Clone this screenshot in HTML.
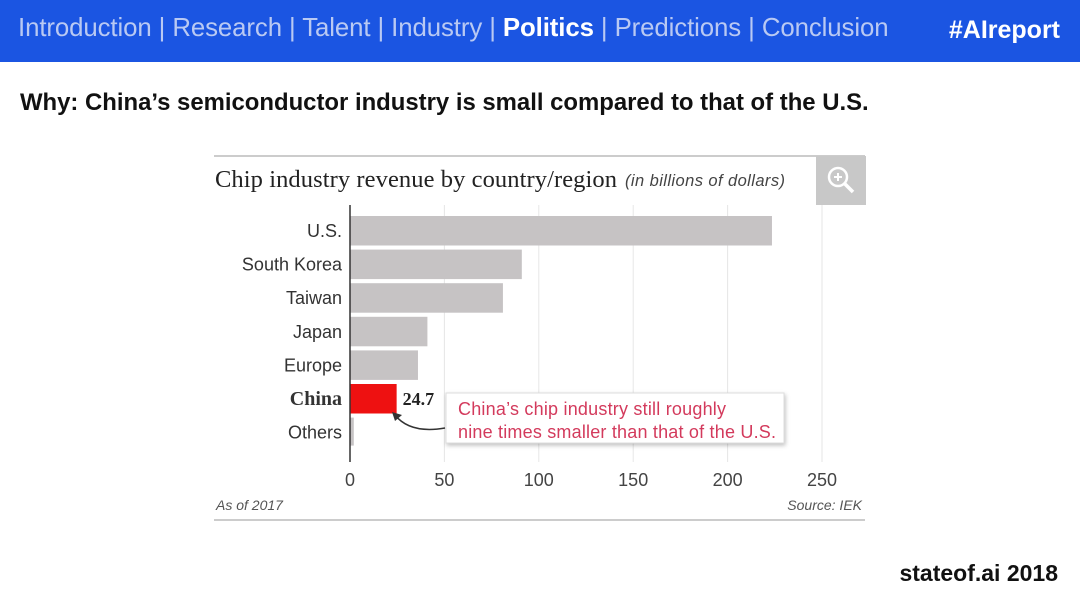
<!DOCTYPE html>
<html><head><meta charset="utf-8"><style>
body{margin:0;width:1080px;height:608px;background:#fff;overflow:hidden;position:relative;font-family:"Liberation Sans",sans-serif}
#hdr{position:absolute;left:0;top:0;width:1080px;height:62px;background:#1b55e2}
#nav{position:absolute;left:18px;top:14px;font-size:25.8px;color:#b9c9f3;white-space:nowrap;letter-spacing:-0.1px}
#nav b{color:#fff}
#tag{position:absolute;right:20px;top:16px;font-size:25px;font-weight:bold;color:#fff}
#sub{position:absolute;left:20px;top:89px;font-size:23.9px;font-weight:bold;color:#111;letter-spacing:0px}
#foot{position:absolute;right:22px;top:560px;font-size:23px;font-weight:bold;color:#111}
</style></head><body>
<div id="hdr">
<div id="nav">Introduction | Research | Talent | Industry | <b>Politics</b> | Predictions | Conclusion</div>
<div id="tag">#AIreport</div>
</div>
<div id="sub">Why: China’s semiconductor industry is small compared to that of the U.S.</div>
<svg id="chart" width="1080" height="608" style="position:absolute;left:0;top:0">
<line x1="214" y1="156" x2="865" y2="156" stroke="#bbb" stroke-width="1.5"/>
<line x1="214" y1="520" x2="865" y2="520" stroke="#bbb" stroke-width="1.5"/>
<text x="215" y="187" font-family="Liberation Serif,serif" font-size="24.5" fill="#222" textLength="402">Chip industry revenue by country/region</text>
<text x="625" y="186" font-style="italic" font-size="16.5" fill="#444" textLength="160">(in billions of dollars)</text>
<rect x="816" y="156" width="50" height="49" fill="#c8c8c8"/>
<circle cx="838" cy="177" r="9" fill="none" stroke="#fff" stroke-width="2.5"/>
<line x1="834" y1="177" x2="842" y2="177" stroke="#fff" stroke-width="2"/>
<line x1="838" y1="173" x2="838" y2="181" stroke="#fff" stroke-width="2"/>
<line x1="845" y1="184" x2="853" y2="192" stroke="#fff" stroke-width="3.5"/>
<g id="grid"></g><g id="bars"></g>
<text x="216" y="510" font-size="14" font-style="italic" fill="#555">As of 2017</text>
<text x="862" y="510" font-size="14" font-style="italic" fill="#555" text-anchor="end">Source: IEK</text>
<rect x="446" y="393" width="338" height="50" fill="#fff" stroke="#ddd" style="filter:drop-shadow(1px 2px 2px rgba(0,0,0,.25))"/>
<text x="458" y="415" font-size="18" fill="#d33a5c" textLength="268">China’s chip industry still roughly</text>
<text x="458" y="438" font-size="18" fill="#d33a5c" textLength="318">nine times smaller than that of the U.S.</text>
<path d="M445 428 Q410 434 395 415" fill="none" stroke="#333" stroke-width="1.5"/>
<path d="M392 412 L402 415 L395 421 Z" fill="#333"/>
</svg>
<div id="foot">stateof.ai 2018</div>
<script>
const categories=["U.S.","South Korea","Taiwan","Japan","Europe","China","Others"];
const values=[223.5,91,81,41,36,24.7,2];
const ticks=[0,50,100,150,200,250];
const NS="http://www.w3.org/2000/svg";
const x=v=>350+v*1.888;
const y=i=>216+i*33.6;
function mk(t,a,p){const e=document.createElementNS(NS,t);for(const k in a)e.setAttribute(k,a[k]);p.appendChild(e);return e;}
const g=document.getElementById('grid'),b=document.getElementById('bars');
ticks.forEach(t=>{
 if(t>0){const l=mk('line',{x1:x(t),x2:x(t),y1:205,y2:462,stroke:'#e6e6e6','stroke-width':1},g);
 
 }
 const tx=mk('text',{x:x(t),y:486,'font-size':18,fill:'#444','text-anchor':'middle'},g);tx.textContent=t;
 
 
});
categories.forEach((c,i)=>{
 const isC=c==="China";
 const r=mk('rect',{x:350,y:y(i),width:Math.max(x(values[i])-350,1),height:i==6?28:29.5,fill:isC?'#ee1111':'#c6c3c4'},b);
 
 
 const t=mk('text',{x:342,y:y(i)+21,'font-size':isC?20:18,'text-anchor':'end',fill:'#333','font-family':isC?'Liberation Serif,serif':'Liberation Sans,sans-serif','font-weight':isC?'bold':'normal'},b);
 t.textContent=c;
 
 
 if(isC){const v=mk('text',{x:x(values[i])+6,y:y(i)+21,'font-size':18,'font-weight':'bold','font-family':'Liberation Serif,serif',fill:'#222'},b);v.textContent=values[i];
 
 }
});
const ax=mk('line',{x1:350,x2:350,y1:205,y2:462,stroke:'#333','stroke-width':1.5},b);


</script>
</body></html>
